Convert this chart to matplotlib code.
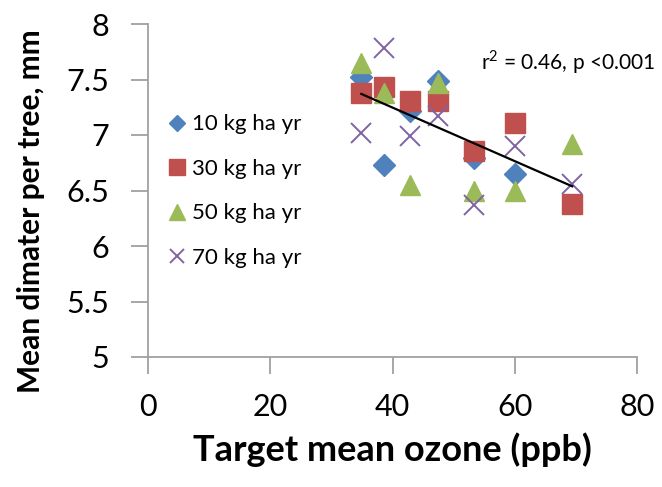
import numpy as np
import matplotlib
matplotlib.use("Agg")
import matplotlib.pyplot as plt

plt.rcParams['font.family'] = ['Lato', 'DejaVu Sans']
plt.rcParams['mathtext.fontset'] = 'custom'
plt.rcParams['mathtext.rm'] = 'Lato'

ozone = [34.9, 38.6, 42.9, 47.5, 53.4, 60.1, 69.4]
n10 = [7.52, 6.73, 7.22, 7.49, 6.79, 6.65, None]
n30 = [7.375, 7.43, 7.31, 7.31, 6.86, 7.11, 6.38]
n50 = [7.65, 7.38, 6.55, 7.47, 6.50, 6.50, 6.92]
n70 = [7.02, 7.78, 6.99, 7.17, 6.37, 6.90, 6.56]
labels = ['10 kg ha yr', '30 kg ha yr', '50 kg ha yr', '70 kg ha yr']
xticks = [0, 20, 40, 60, 80]
yticks = [5, 5.5, 6, 6.5, 7, 7.5, 8]

fig = plt.figure(figsize=(6.62, 4.87), dpi=100)
ax = fig.add_axes([148/662, 1-357/487, (637-148)/662, (357-24)/487])

def xy(vals):
    xs = [x for x, v in zip(ozone, vals) if v is not None]
    ys = [v for v in vals if v is not None]
    return xs, ys

gray = '#a0a0a0'
h1, = ax.plot(*xy(n10), ls='none', marker='D', ms=11, color='#4f81bd', label=labels[0])
h2, = ax.plot(*xy(n30), ls='none', marker='s', ms=14.5, color='#c0504d', label=labels[1])
h3, = ax.plot(*xy(n50), ls='none', marker='^', ms=15, color='#9bbb59', label=labels[2])
h4, = ax.plot(*xy(n70), ls='none', marker='x', ms=14, mew=1.4, color='#8064a2', label=labels[3])

allx, ally = [], []
for s in (n10, n30, n50, n70):
    xs, ys = xy(s)
    allx += xs; ally += ys
m, b = np.polyfit(allx, ally, 1)
lx = np.array([min(allx), max(allx)])
ax.plot(lx, m*lx + b, color='black', lw=1.6, zorder=5)

ax.set_xlim(0, 80)
ax.set_ylim(5, 8)
ax.set_xticks(xticks)
ax.set_yticks(yticks)
ax.set_yticklabels([f'{v:g}' for v in yticks])
for s in ('top', 'right'):
    ax.spines[s].set_visible(False)
for s in ('left', 'bottom'):
    ax.spines[s].set_color(gray)
    ax.spines[s].set_linewidth(1.3)
ax.tick_params(axis='both', direction='out', length=12, width=1.3, color=gray, labelsize=22)
ax.tick_params(axis='x', pad=14)
ax.tick_params(axis='y', pad=16)

ax.set_xlabel('Target mean ozone (ppb)', fontsize=26, fontweight='bold', labelpad=8)
ax.set_ylabel('Mean dimater per tree, mm', fontsize=21.5, fontweight='bold')
ax.yaxis.set_label_coords((45-148)/489, (357-211)/333)

fig.text(655/662, 1-62/487, r'r$^{\mathrm{2}}$ = 0.46, p <0.001', fontsize=15, ha='right', va='center')

leg = ax.legend(handles=[h1, h2, h3, h4], loc='upper left', bbox_to_anchor=(0.027, 0.755),
                frameon=False, fontsize=16, handlelength=0.6, handletextpad=0.4,
                labelspacing=1.1, markerscale=0.75, borderaxespad=0)

fig.savefig('out.png', dpi=100)
